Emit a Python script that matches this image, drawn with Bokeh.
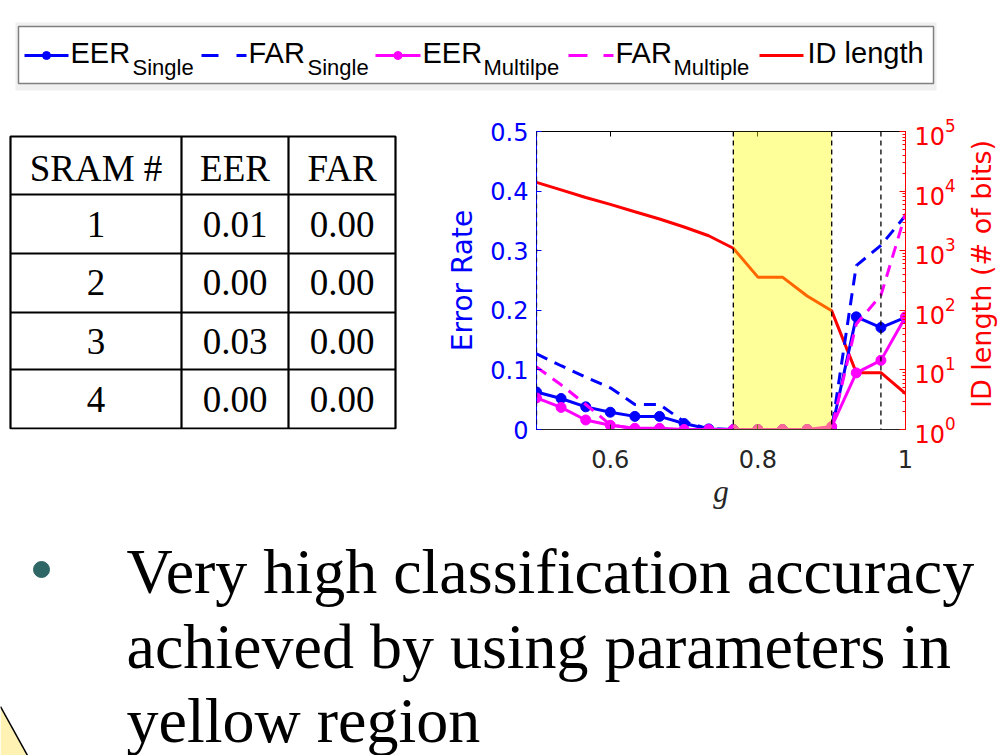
import math
from bokeh.plotting import figure
from bokeh.models import (Range1d, LinearAxis, LogAxis, LogScale, FixedTicker,
                          CustomJSTickFormatter, LogTickFormatter, BoxAnnotation, Span)
from bokeh.layouts import column, row
from bokeh.embed import file_html
from bokeh.resources import INLINE
from bokeh.core.properties import value

# ---------------- data ----------------
g = [0.5, 0.5333, 0.5667, 0.6, 0.6333, 0.6667, 0.7, 0.7333,
     0.7667, 0.8, 0.8333, 0.8667, 0.9, 0.9333, 0.9667, 1.0]
eer_single = [0.063, 0.052, 0.038, 0.029, 0.022, 0.022, 0.010, 0.001,
              0.0, 0.0, 0.0, 0.0, 0.0, 0.189, 0.171, 0.188]
far_single = [0.127, 0.107, 0.088, 0.070, 0.042, 0.042, 0.013, 0.001,
              0.0, 0.0, 0.0, 0.0, 0.0, 0.275, 0.309, 0.359]
eer_multiple = [0.053, 0.037, 0.016, 0.007, 0.002, 0.002, 0.0, 0.0,
                0.0, 0.0, 0.0, 0.0, 0.005, 0.095, 0.116, 0.189]
far_multiple = [0.105, 0.075, 0.042, 0.008, 0.001, 0.0, 0.0, 0.0,
                0.0, 0.0, 0.0, 0.0, 0.002, 0.177, 0.225, 0.362]
id_length = [14000, 10500, 7800, 6000, 4500, 3400, 2500, 1780,
             1100, 360, 360, 174, 98, 9, 9, 4]

yellow_region = [0.7667, 0.9]
dashed_g = [0.5, 0.7667, 0.9, 0.9667]

g_ticks = [0.6, 0.8, 1.0]
er_ticks = [0, 0.1, 0.2, 0.3, 0.4, 0.5]
id_ticks = [1, 10, 100, 1000, 10000, 100000]

x_title = "g"
left_title = "Error Rate"
right_title = "ID length (# of bits)"

legend_main = ["EER", "FAR", "EER", "FAR", "ID length"]
legend_sub = ["Single", "Single", "Multilpe", "Multiple", ""]

table_header = ["SRAM #", "EER", "FAR"]
table_sram = ["1", "2", "3", "4"]
table_eer = ["0.01", "0.00", "0.03", "0.00"]
table_far = ["0.00", "0.00", "0.00", "0.00"]

bullet_lines = ["Very high classification accuracy",
                "achieved by using parameters in",
                "yellow region"]

BLUE = "#0000ff"
MAG = "#ff00ff"
RED = "#ff0000"

# chart frame borders inside its 521x430 box
B_TOP, B_BOTTOM, B_LEFT, B_RIGHT = 31, 101, 96, 56
CHART_W = B_LEFT + 369 + B_RIGHT
STRIP_X0 = 440 + CHART_W
STRIP_W = 1002 - STRIP_X0


def canvas(w, h, x0, y0, top=0, bottom=0):
    # frame spans page rows y0+top .. y0+h-bottom
    f = figure(width=w, height=h, x_range=Range1d(x0, x0 + w),
               y_range=Range1d(y0 + h - bottom, y0 + top), output_backend="svg",
               toolbar_location=None, min_border=0,
               min_border_top=top, min_border_bottom=bottom,
               x_axis_location=None, y_axis_location=None)
    f.grid.visible = False
    f.outline_line_color = None
    f.background_fill_color = "white"
    f.border_fill_color = "white"
    return f


def put_text(f, xs, ys, texts, font, size, align="left", color="black", shift=0.0,
             angle=0.0):
    if angle:
        xs = [x - shift for x in xs]
    else:
        ys = [y - shift for y in ys]
    f.text(x=xs, y=ys, text=texts, angle=angle,
           text_font=value(font), text_font_size=f"{size}px",
           text_baseline="alphabetic", text_align=align, text_color=color)


# ---------------- legend ----------------
leg = canvas(1002, 100, 0, 0)
leg.quad(left=[15], right=[936], top=[22], bottom=[90],
         fill_color="#f0f0f0", line_color=None)
leg.quad(left=[18], right=[933], top=[26], bottom=[83],
         fill_color="white", line_color="#808080", line_width=1.5)
ly = 55
sw = [(24, 68), (201, 246), (375, 420), (568, 613), (759, 803)]
sw_col = [BLUE, BLUE, MAG, MAG, RED]
sw_dash = ["solid", "17 18", "solid", "19 16", "solid"]
sw_mark = [True, False, True, False, False]
tx = [70, 248, 422, 615, 807]
sx = [132, 307, 483, 673, None]
for i in range(5):
    leg.line(x=list(sw[i]), y=[ly, ly], line_color=sw_col[i], line_width=3,
             line_dash=sw_dash[i])
    if sw_mark[i]:
        leg.scatter(x=[(sw[i][0] + sw[i][1]) / 2], y=[ly], size=8,
                    fill_color=sw_col[i], line_color=sw_col[i])
    put_text(leg, [tx[i]], [63], [legend_main[i]], "Liberation Sans", 29, shift=11)
    if legend_sub[i]:
        put_text(leg, [sx[i]], [75], [legend_sub[i]], "Liberation Sans", 22, shift=8)

# ---------------- table ----------------
tab = canvas(440, 430, 0, 100, top=B_TOP, bottom=B_BOTTOM)
col_edges = [10, 181, 288, 395]
row_edges = [136, 194, 253, 312, 369, 428]
tab.quad(left=[col_edges[0]], right=[col_edges[-1]], top=[row_edges[0]],
         bottom=[row_edges[-1]], fill_color=None, line_color="black", line_width=2.2)
tab.segment(x0=col_edges[1:-1], y0=[row_edges[0]] * 2, x1=col_edges[1:-1],
            y1=[row_edges[-1]] * 2, line_color="black", line_width=2.2)
tab.segment(x0=[col_edges[0]] * 4, y0=row_edges[1:-1], x1=[col_edges[-1]] * 4,
            y1=row_edges[1:-1], line_color="black", line_width=2.2)
col_c = [(col_edges[i] + col_edges[i + 1]) / 2 for i in range(3)]
baselines = [182, 238, 296, 355, 413]
cols = [[table_header[0]] + table_sram, [table_header[1]] + table_eer,
        [table_header[2]] + table_far]
for ci in range(3):
    put_text(tab, [col_c[ci]] * 5, baselines, cols[ci], "Liberation Serif", 37,
             align="center", shift=14)

# ---------------- chart ----------------
p = figure(width=CHART_W, height=430, x_range=Range1d(0.5, 1.0),
           y_range=Range1d(0, 0.5), output_backend="svg", toolbar_location=None,
           min_border_left=B_LEFT, min_border_right=B_RIGHT, min_border_top=B_TOP,
           min_border_bottom=B_BOTTOM)
p.grid.visible = False
p.outline_line_color = "black"
p.outline_line_width = 1
p.background_fill_color = "white"
p.border_fill_color = "white"

p.extra_y_ranges = {"id": Range1d(1, 1e5)}
p.extra_y_scales = {"id": LogScale()}

fmt = CustomJSTickFormatter(code="return (Math.round(tick*10)/10).toString();")

xa = p.xaxis[0]
xa.ticker = FixedTicker(ticks=g_ticks)
xa.formatter = fmt
xa.axis_label = x_title
xa.axis_label_text_font = "Liberation Serif"
xa.axis_label_text_font_style = "italic"
xa.axis_label_text_font_size = "31px"
xa.axis_label_text_color = "#262626"
xa.axis_label_standoff = 3
xa.major_label_text_font = "DejaVu Sans"
xa.major_label_text_font_size = "24px"
xa.major_label_text_color = "#262626"
xa.major_label_standoff = 20
xa.axis_line_color = "#262626"
xa.major_tick_line_color = "#262626"
xa.major_tick_in = 5
xa.major_tick_out = 0
xa.minor_tick_line_color = None

ya = p.yaxis[0]
ya.ticker = FixedTicker(ticks=er_ticks)
ya.formatter = fmt
ya.axis_label = left_title
ya.axis_label_text_font = "DejaVu Sans"
ya.axis_label_text_font_style = "normal"
ya.axis_label_text_font_size = "28px"
ya.axis_label_text_color = BLUE
ya.axis_label_standoff = 8
ya.major_label_text_font = "DejaVu Sans"
ya.major_label_text_font_size = "24px"
ya.major_label_text_color = BLUE
ya.major_label_standoff = 8
ya.axis_line_color = BLUE
ya.major_tick_line_color = BLUE
ya.major_tick_in = 5
ya.major_tick_out = 0
ya.minor_tick_line_color = None

minor = [m * d for d in id_ticks[:-1] for m in range(2, 10)]
ra = LogAxis(y_range_name="id", ticker=FixedTicker(ticks=id_ticks, minor_ticks=minor),
             formatter=LogTickFormatter())
ra.major_label_text_font = "DejaVu Sans"
ra.major_label_text_font_size = "24px"
ra.major_label_text_color = RED
ra.major_label_standoff = 9
ra.axis_line_color = RED
ra.major_tick_line_color = RED
ra.major_tick_in = 6
ra.major_tick_out = 0
ra.minor_tick_line_color = RED
ra.minor_tick_in = 3
ra.minor_tick_out = 0
p.add_layout(ra, "right")

ta = LinearAxis(ticker=FixedTicker(ticks=g_ticks), major_label_text_font_size="0px",
                major_label_text_alpha=0, axis_line_color="black",
                major_tick_line_color="black", major_tick_in=5, major_tick_out=0,
                minor_tick_line_color=None, major_label_standoff=0)
p.add_layout(ta, "above")

# series
p.line(g, id_length, y_range_name="id", line_color=RED, line_width=3)
p.line(g, far_single, line_color=BLUE, line_width=3, line_dash="12 8")
p.line(g, eer_single, line_color=BLUE, line_width=3)
p.scatter(g, eer_single, size=10, fill_color=BLUE, line_color=BLUE)
p.line(g, far_multiple, line_color=MAG, line_width=3, line_dash="12 8")
p.line(g, eer_multiple, line_color=MAG, line_width=3)
p.scatter(g, eer_multiple, size=10, fill_color=MAG, line_color=MAG)

p.add_layout(BoxAnnotation(left=yellow_region[0], right=yellow_region[1],
                           fill_color="#ffff00", fill_alpha=0.4, line_color=None))
for xv in dashed_g:
    p.add_layout(Span(location=xv, dimension="height", line_color="black",
                      line_width=1.3, line_dash="5 4"))

# right-axis title strip (reads bottom-to-top, as in the reference)
rt = canvas(STRIP_W, 430, STRIP_X0, 100, top=B_TOP, bottom=B_BOTTOM)
put_text(rt, [992], [273.5], [right_title], "DejaVu Sans", 27, align="center",
         color=RED, shift=11, angle=math.pi / 2)

# ---------------- bullet text ----------------
txt = canvas(1002, 225, 0, 530)
txt.patch(x=[0, 27, 0], y=[706, 755, 755], fill_color="#fff2b3", line_color=None)
txt.line(x=[0, 27], y=[706, 755], line_color="black", line_width=1.5)
txt.scatter(x=[41], y=[569], size=16, fill_color="#2f6666", line_color="#2f6666")
put_text(txt, [126] * 3, [592, 667, 741], bullet_lines, "Liberation Serif", 64, shift=21)

layout = column(leg, row(tab, p, rt, spacing=0), txt, spacing=0)
open("out.html", "w").write(file_html(layout, INLINE))
